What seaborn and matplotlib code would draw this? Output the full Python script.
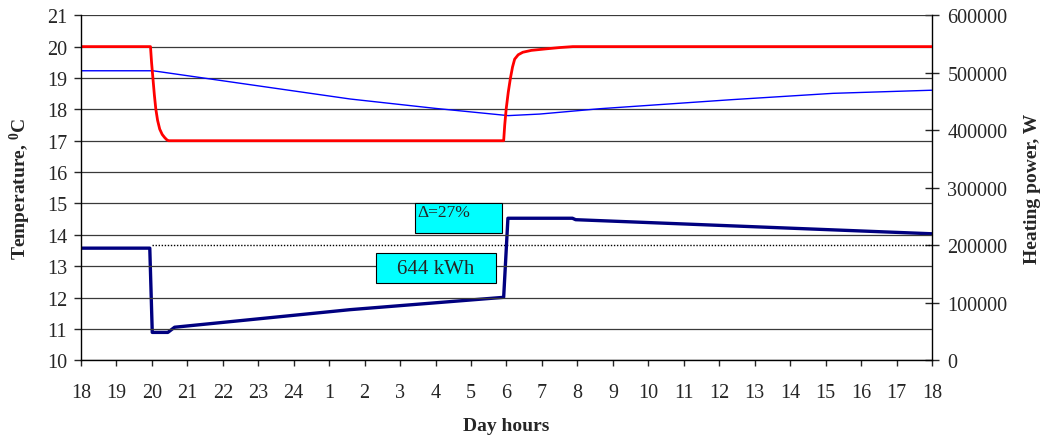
import numpy as np
import pandas as pd
import matplotlib
matplotlib.use('Agg')
import matplotlib.pyplot as plt
import seaborn as sns
from matplotlib.patches import Rectangle

# hours counted from 18:00 of the first day
hour_labels = ['18', '19', '20', '21', '22', '23', '24', '1', '2', '3', '4', '5', '6',
               '7', '8', '9', '10', '11', '12', '13', '14', '15', '16', '17', '18']

# set point temperature (red), degC
sp_hours = [0, 1.96, 1.99, 2.03, 2.07, 2.11, 2.16, 2.22, 2.29, 2.36, 2.42, 2.47,
            11.92, 11.95, 11.99, 12.05, 12.11, 12.17, 12.23, 12.33, 12.46, 12.7, 13.13, 13.5, 13.87, 24]
sp_temp = [20, 20, 19.5, 18.97, 18.45, 18.01, 17.65, 17.37, 17.2, 17.1, 17.03, 17.0,
           17.0, 17.5, 18.0, 18.55, 18.99, 19.35, 19.6, 19.74, 19.82, 19.88, 19.93, 19.97, 20, 20]

# indoor air temperature (blue), degC
in_hours = [0, 2.03, 4.19, 7.59, 10.0, 12.05, 12.94, 14.63, 18.37, 21.2, 24]
in_temp = [19.23, 19.23, 18.88, 18.33, 18.03, 17.80, 17.85, 18.02, 18.31, 18.51, 18.61]

# heating power (navy), W
pw_hours = [0, 1.94, 2.01, 2.45, 2.64, 7.58, 11.92, 12.04, 13.86, 13.95, 24]
pw_watt = [195000, 195000, 48500, 48500, 57500, 88000, 109500, 247000, 247000, 244500, 220000]

# constant power reference (dotted), W
ref_hours = [2.0, 24]
ref_watt = [200000, 200000]

sns.set_style('white')
plt.rcParams['font.family'] = ['Liberation Serif', 'DejaVu Serif']
plt.rcParams['mathtext.fontset'] = 'custom'
plt.rcParams['mathtext.rm'] = 'Liberation Serif'
plt.rcParams['mathtext.bf'] = 'Liberation Serif:bold'

fig = plt.figure(figsize=(10.41, 4.39), dpi=100)
ax = fig.add_axes([0.0778, 0.177, 0.8175, 0.786])
ax2 = ax.twinx()

sp = pd.DataFrame({'h': sp_hours, 't': sp_temp})
ins = pd.DataFrame({'h': in_hours, 't': in_temp})
pw = pd.DataFrame({'h': pw_hours, 'p': pw_watt})
ref = pd.DataFrame({'h': ref_hours, 'p': ref_watt})

for y in range(10, 22):
    ax.axhline(y, color='#3a3a3a', lw=0.9, zorder=0)

sns.lineplot(data=ins, x='h', y='t', ax=ax, color='#0000ff', lw=1.0,
             estimator=None, sort=False)
sns.lineplot(data=sp, x='h', y='t', ax=ax, color='#ff0000', lw=2.0,
             estimator=None, sort=False)
sns.lineplot(data=ref, x='h', y='p', ax=ax2, color='black', lw=1.0,
             linestyle=(0, (1, 1.2)), estimator=None, sort=False)
sns.lineplot(data=pw, x='h', y='p', ax=ax2, color='#000080', lw=2.4,
             estimator=None, sort=False)

ax.set_xlim(0, 24)
ax.set_ylim(10, 21)
ax2.set_ylim(0, 600000)
ax.set_xticks(range(25))
ax.set_xticklabels(hour_labels)
ax.set_yticks(range(10, 22))
ax2.set_yticks(range(0, 600001, 100000))
ax2.set_yticklabels([str(v) for v in range(0, 600001, 100000)])

for a in (ax, ax2):
    a.spines['top'].set_visible(False)
    for s in a.spines.values():
        s.set_color('black')
        s.set_linewidth(1.0)
ax.spines['right'].set_visible(False)
ax2.spines['left'].set_visible(False)
ax2.spines['bottom'].set_visible(False)

ax.tick_params(axis='x', direction='out', length=4, width=1, pad=12, labelsize=14.5, bottom=True)
ax.tick_params(axis='y', direction='out', length=5, width=1, pad=5, labelsize=14.5, left=True)
ax2.tick_params(axis='y', direction='inout', length=10, width=1, pad=6, labelsize=14.5, right=True)

ax.set_xlabel('Day hours', fontsize=14, fontweight='bold')
ax.set_ylabel(r'Temperature, $\mathbf{^0}$C', fontsize=14, fontweight='bold')
ax2.set_ylabel('Heating power, W', fontsize=14, fontweight='bold')
ax.xaxis.set_label_coords(0.5, -0.165)
ax.yaxis.set_label_coords(-0.056, 0.5)
ax2.yaxis.set_label_coords(1.108, 0.5)

ax.add_patch(Rectangle((9.41, 14.05), 2.47, 0.96, facecolor='#00ffff',
                       edgecolor='black', lw=0.8, zorder=5))
ax.text(9.48, 14.72, 'Δ=27%', fontsize=12.5, ha='left', va='center', zorder=6)
ax.add_patch(Rectangle((8.33, 12.45), 3.36, 0.97, facecolor='#00ffff',
                       edgecolor='black', lw=0.8, zorder=5))
ax.text(10.01, 12.93, '644 kWh', fontsize=15, ha='center', va='center', zorder=6)

ax.set_zorder(ax2.get_zorder() + 1)
ax.patch.set_visible(False)

fig.savefig('out.png', dpi=100)
